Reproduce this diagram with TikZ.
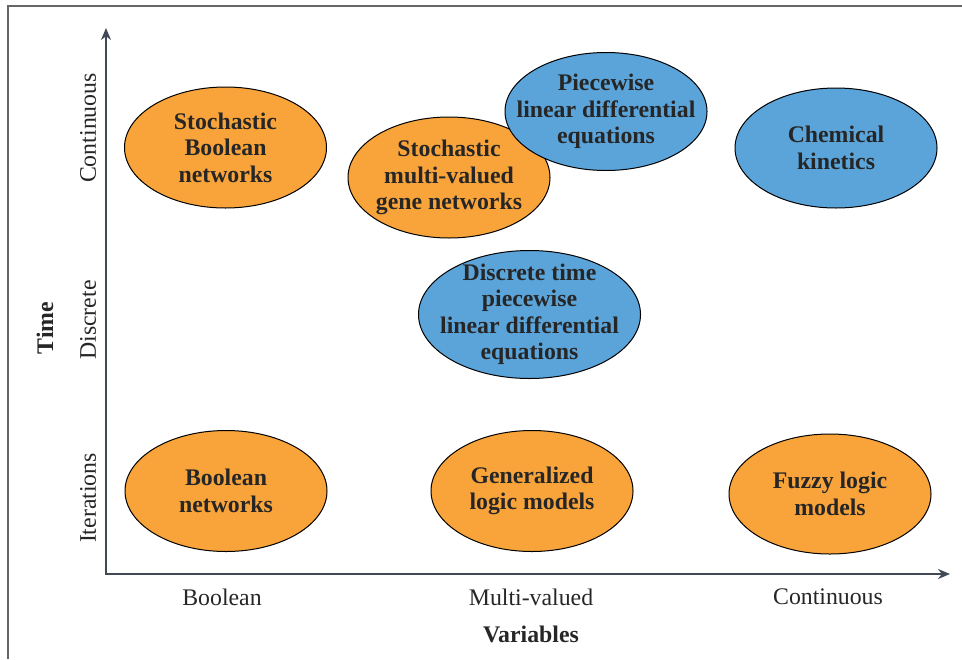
\documentclass[tikz,border=0pt]{standalone}
\usepackage{fontspec}
\setmainfont{Liberation Serif}
\usetikzlibrary{shapes.geometric,arrows.meta}

\definecolor{bubbleorange}{HTML}{F9A43B}
\definecolor{bubbleblue}{HTML}{5BA4DA}
\definecolor{axisgray}{HTML}{3F4A54}
\definecolor{textdark}{HTML}{262626}

\begin{document}
\begin{tikzpicture}[x=0.5pt,y=-0.5pt,
	bubble/.style={ellipse,draw=black,line width=0.5pt,align=center,text=textdark,
		inner sep=-12pt,font=\bfseries\fontsize{11.9}{13.25}\selectfont},
	orangebub/.style={bubble,fill=bubbleorange,minimum width=101pt,minimum height=60.5pt},
	bluebub/.style={bubble,fill=bubbleblue,minimum width=101pt,minimum height=60pt},
	axis/.style={draw=axisgray,line width=1.3pt,{Stealth[length=6pt,width=5pt]}-{Stealth[length=6pt,width=5pt]}},
	axislabel/.style={text=textdark,inner sep=0pt,font=\fontsize{11.9}{13}\selectfont},
	axistitle/.style={text=textdark,inner sep=0pt,font=\bfseries\fontsize{11.9}{13}\selectfont}]
	\useasboundingbox (0,0) rectangle (962,659);

	% frame
	\coordinate (fa) at (8,659);
	\coordinate (fb) at (8,6);
	\coordinate (fc) at (962,6);
	\draw[gray!80!black,line width=0.6pt] (fa) -- (fb) -- (fc);

	% axes
	\coordinate (O) at (106,574);
	\coordinate (ytip) at (106,28);
	\coordinate (xtip) at (950,574);
	\draw[axis] (ytip) -- (O) -- (xtip);

	% labels on the axes
	\node[axislabel,rotate=90] (cont) at (88,128) {Continuous};
	\node[axislabel,rotate=90] (disc) at (88,320) {Discrete};
	\node[axislabel,rotate=90] (iter) at (88,498) {Iterations};
	\node[axistitle,rotate=90] (time) at (45,328) {Time};

	\node[axislabel] (bool) at (222,597) {Boolean};
	\node[axislabel] (multi) at (531,597) {Multi-valued};
	\node[axislabel] (contx) at (828,597) {Continuous};
	\node[axistitle] (vars) at (531,634) {Variables};

	% models
	\node[orangebub] (sbn) at (225.5,147.5) {Stochastic\\Boolean\\networks};
	\node[orangebub] (smv) at (449,177.5) {Stochastic\\multi-valued\\gene networks};
	\node[bluebub,minimum height=59pt] (plde) at (606,111.5) {Piecewise\\linear differential\\equations};
	\node[bluebub] (chem) at (836,148) {Chemical\\kinetics};
	\node[bluebub,minimum width=111pt,minimum height=64pt] (dplde) at (529.5,314.5) {Discrete time\\piecewise\\linear differential\\equations};
	\node[orangebub] (bn) at (226,491) {Boolean\\networks};
	\node[orangebub] (glm) at (532,491) {Generalized\\logic models};
	\node[orangebub,minimum height=60pt] (flm) at (830,494) {Fuzzy logic\\models};
\end{tikzpicture}
\end{document}
